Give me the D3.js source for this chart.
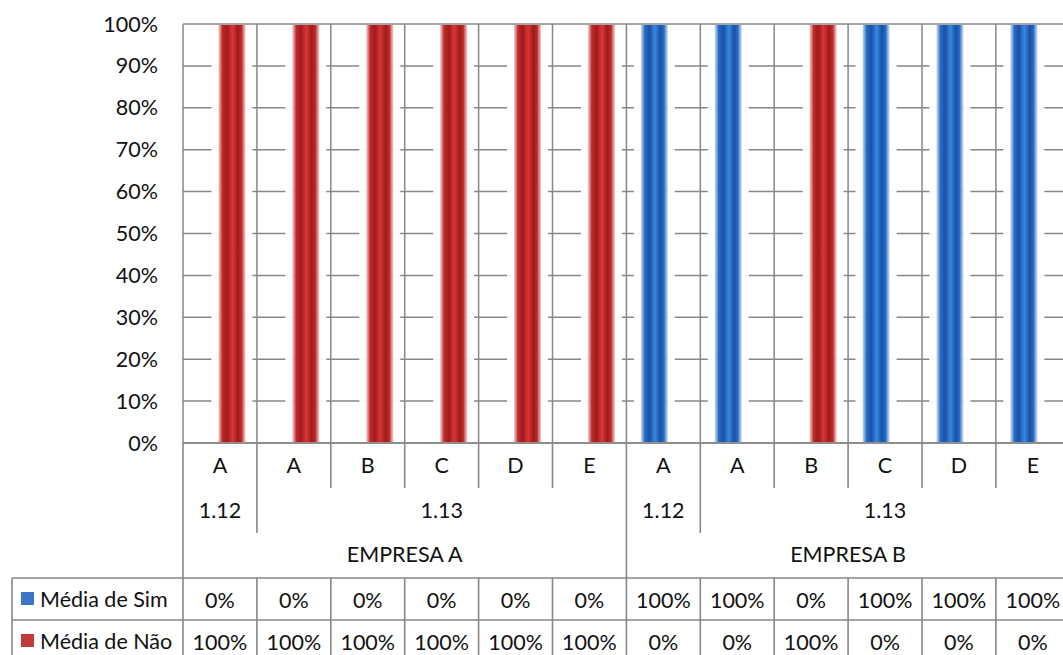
<!DOCTYPE html>
<html>
<head>
<meta charset="utf-8">
<script src="https://cdn.jsdelivr.net/npm/d3@7"></script>
<style>
  html, body { margin: 0; padding: 0; background: #fff; }
  svg { display: block; font-family: Lato, "Open Sans", sans-serif; }
</style>
</head>
<body>
<svg id="chart" width="1063" height="655"></svg>
<script>
// Categories: item letter, question code, company
const items     = ["A", "A", "B", "C", "D", "E", "A", "A", "B", "C", "D", "E"];
const questions = ["1.12", "1.13", "1.13", "1.13", "1.13", "1.13", "1.12", "1.13", "1.13", "1.13", "1.13", "1.13"];
const companies = ["EMPRESA A", "EMPRESA A", "EMPRESA A", "EMPRESA A", "EMPRESA A", "EMPRESA A",
                   "EMPRESA B", "EMPRESA B", "EMPRESA B", "EMPRESA B", "EMPRESA B", "EMPRESA B"];

// Series values (share of answers)
const seriesNames = ["Média de Sim", "Média de Não"];
const simValues = [0, 0, 0, 0, 0, 0, 1, 1, 0, 1, 1, 1];
const naoValues = [1, 1, 1, 1, 1, 1, 0, 0, 1, 0, 0, 0];

// Axis ticks
const yTicks = [0, 0.1, 0.2, 0.3, 0.4, 0.5, 0.6, 0.7, 0.8, 0.9, 1];

const svg = d3.select("#chart");
const gridColor = "#878787";
const textColor = "#111";
const fontSize = 21.5;
const plotLeft = 183, plotTop = 24, plotBottom = 443, catW = 73.9;
const idx = d3.range(items.length);

const x0 = d3.scaleBand().domain(idx).range([plotLeft, plotLeft + catW * items.length]).padding(0);
const x1 = d3.scaleBand().domain(seriesNames).range([-19.5, 22.5]).padding(0);
const y = d3.scaleLinear().domain([0, 1]).range([plotBottom, plotTop]);
const fmt = d3.format(".0%");

// Gradients for the glossy bars
const defs = svg.append("defs");
function barGradient(id, edge, dark, mid, bright) {
  const g = defs.append("linearGradient").attr("id", id).attr("x1", 0).attr("x2", 1).attr("y1", 0).attr("y2", 0);
  [[0, edge, 0.5], [0.14, mid, 1], [0.32, dark, 1], [0.52, bright, 1], [0.72, dark, 1], [0.86, mid, 1], [1, edge, 0.5]]
    .forEach(([o, c, a]) => g.append("stop").attr("offset", o).attr("stop-color", c).attr("stop-opacity", a));
}
barGradient("gSim", "#8fb3e0", "#1652a8", "#2a6cc4", "#3a86e0");
barGradient("gNao", "#e09090", "#a01a1c", "#c22a2c", "#d83636");

// Horizontal gridlines
svg.append("g").selectAll("line").data(yTicks).join("line")
  .attr("x1", plotLeft).attr("x2", 1063)
  .attr("y1", d => y(d)).attr("y2", d => y(d))
  .attr("stroke", gridColor).attr("stroke-width", 1.5);

// Vertical category separators inside the plot
svg.append("g").selectAll("line").data(d3.range(items.length + 1)).join("line")
  .attr("x1", i => plotLeft + catW * i).attr("x2", i => plotLeft + catW * i)
  .attr("y1", plotTop).attr("y2", plotBottom)
  .attr("stroke", gridColor).attr("stroke-width", 1.5);

// Bars
const series = [
  { name: seriesNames[0], values: simValues, fill: "url(#gSim)" },
  { name: seriesNames[1], values: naoValues, fill: "url(#gNao)" }
];
const barW = 27, halo = 7;
const bars = svg.append("g");
series.forEach(s => {
  const cx = i => x0(i) + x0.bandwidth() / 2 + x1(s.name) + x1.bandwidth() / 2;
  const data = idx.filter(i => s.values[i] > 0);
  // soft white halo that breaks the gridlines around each bar
  bars.append("g").selectAll("rect").data(data).join("rect")
    .attr("x", i => cx(i) - barW / 2 - halo).attr("width", barW + 2 * halo)
    .attr("y", i => y(s.values[i]) + 1).attr("height", i => y(0) - y(s.values[i]) - 2)
    .attr("fill", "#fff").attr("opacity", 0.95);
  bars.append("g").selectAll("rect").data(data).join("rect")
    .attr("x", i => cx(i) - barW / 2).attr("width", barW)
    .attr("y", i => y(s.values[i]) + 1).attr("height", i => y(0) - y(s.values[i]) - 2)
    .attr("fill", s.fill);
});

// Y axis labels
svg.append("g").selectAll("text").data(yTicks).join("text")
  .attr("x", 158).attr("y", d => y(d)).attr("dy", "0.35em")
  .attr("text-anchor", "end").attr("font-size", fontSize).attr("fill", textColor)
  .text(fmt);

// Multi-level category axis
const axis = svg.append("g");
const rowH = 45;
const lineAt = (xa, ya, xb, yb) => axis.append("line")
  .attr("x1", xa).attr("y1", ya).attr("x2", xb).attr("y2", yb)
  .attr("stroke", gridColor).attr("stroke-width", 1.6);
const label = (xp, yp, txt, anchor) => axis.append("text")
  .attr("x", xp).attr("y", yp).attr("dy", "0.35em")
  .attr("text-anchor", anchor || "middle").attr("font-size", fontSize).attr("fill", textColor).text(txt);

// level 1: item letters
idx.forEach(i => label(x0(i) + x0.bandwidth() / 2, plotBottom + 22, items[i]));

// consecutive runs of equal keys, used for the upper levels
function runs(keys) {
  const out = [];
  idx.forEach(i => {
    const last = out[out.length - 1];
    if (last && last.key === keys[i]) last.end = i; else out.push({ key: keys[i], start: i, end: i });
  });
  return out;
}
const compRuns = runs(companies);
const questRuns = runs(idx.map(i => companies[i] + "|" + questions[i]));
questRuns.forEach(r => {
  const xa = x0(r.start), xb = x0(r.end) + x0.bandwidth();
  label((xa + xb) / 2, plotBottom + 67, r.key.split("|")[1]);
});
compRuns.forEach(r => {
  const xa = x0(r.start), xb = x0(r.end) + x0.bandwidth();
  label((xa + xb) / 2, plotBottom + 111, r.key);
});

// separators: item level, question level, company level
const tableTop = 578, tRow = 42;
d3.range(items.length + 1).forEach(i => {
  const xp = plotLeft + catW * i;
  let depth = 1;
  if (i === 0 || i === items.length || companies[i] !== companies[i - 1]) depth = 3;
  else if (questions[i] !== questions[i - 1]) depth = 2;
  const yEnd = depth === 3 ? tableTop : plotBottom + rowH * depth;
  lineAt(xp, plotBottom, xp, yEnd);
});
lineAt(plotLeft, plotBottom, 1063, plotBottom);

// Data table with legend keys
const rows = [
  { name: seriesNames[0], values: simValues, key: "#3b77c6" },
  { name: seriesNames[1], values: naoValues, key: "#c23a3b" }
];
lineAt(12, tableTop, 1063, tableTop);
lineAt(12, tableTop + tRow, 1063, tableTop + tRow);
lineAt(12, tableTop + 2 * tRow, 1063, tableTop + 2 * tRow);
lineAt(12, tableTop, 12, 655);
d3.range(items.length + 1).forEach(i => lineAt(plotLeft + catW * i, tableTop, plotLeft + catW * i, 655));

rows.forEach((r, k) => {
  const cy = tableTop + tRow * k + tRow / 2;
  axis.append("rect").attr("x", 21).attr("y", cy - 7).attr("width", 13).attr("height", 13).attr("fill", r.key);
  label(40, cy, r.name, "start");
  idx.forEach(i => label(x0(i) + x0.bandwidth() / 2, cy + 1, fmt(r.values[i])));
});
</script>
</body>
</html>
